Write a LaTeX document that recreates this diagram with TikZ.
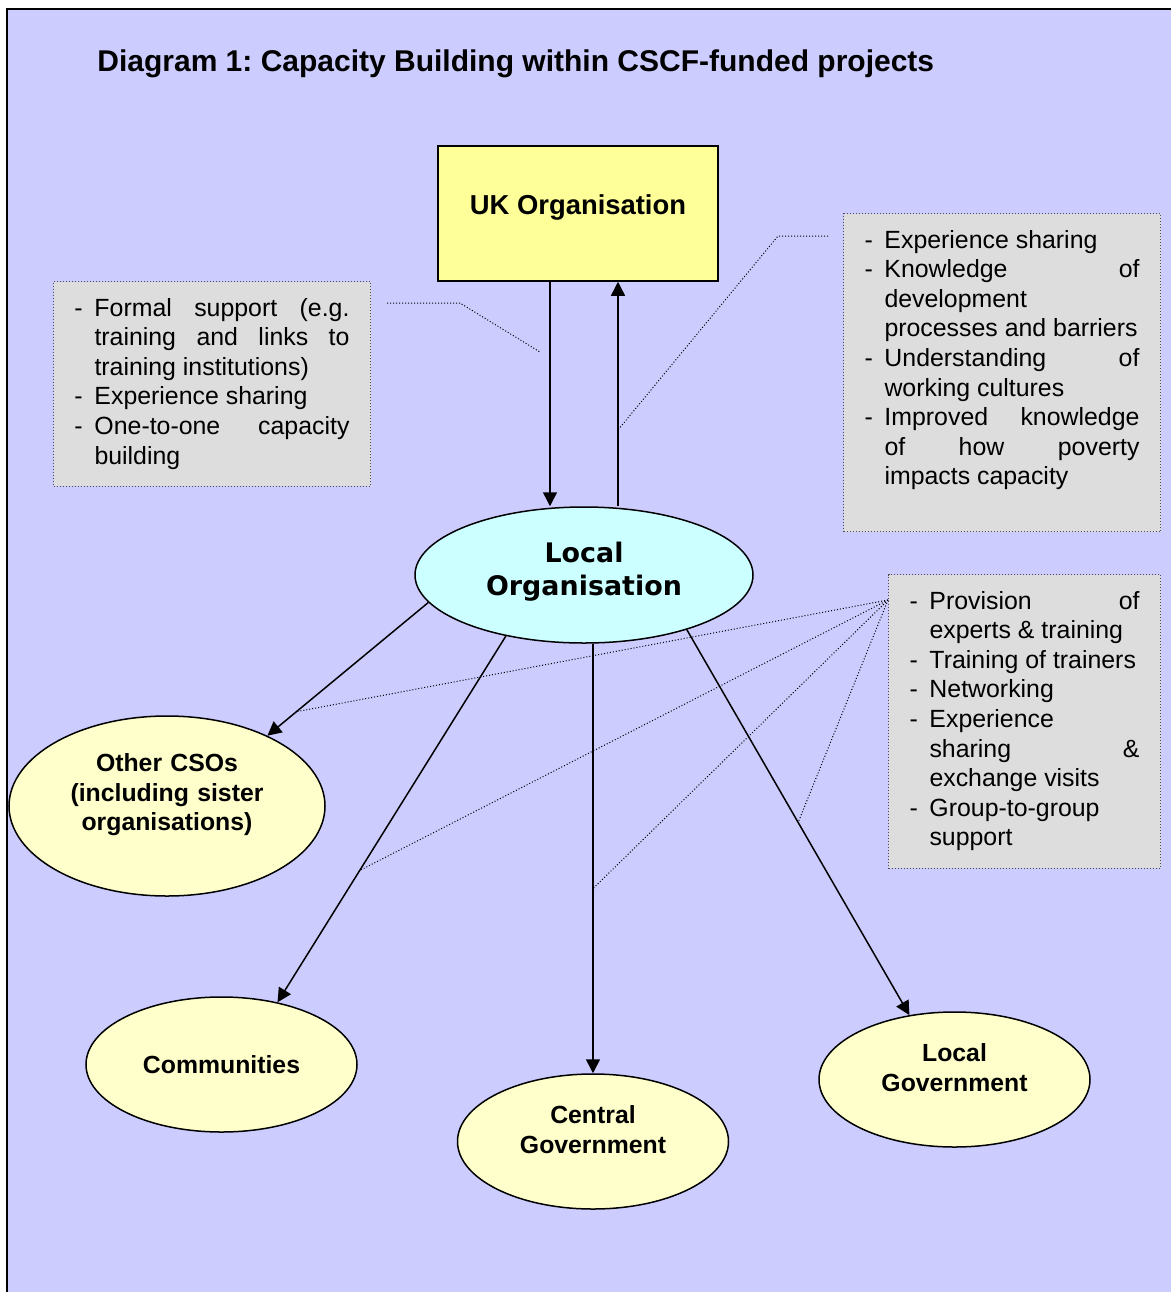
\documentclass[tikz,border=0pt]{standalone}
\usepackage{fontspec}
\setmainfont{Liberation Sans}
\newfontfamily\verdana{DejaVu Sans}
\usetikzlibrary{shapes.geometric,arrows.meta}
\definecolor{bgblue}{HTML}{CCCCFF}
\definecolor{boxgrey}{HTML}{DDDDDD}
\definecolor{ukyellow}{HTML}{FFFF99}
\definecolor{localcyan}{HTML}{CCFFFF}
\definecolor{paleyellow}{HTML}{FFFFCC}
\newcommand{\notefont}{\fontsize{12.44}{14.8}\selectfont\tolerance=10000\hyphenpenalty=10000}
\newcommand{\dashitem}[1]{\par\noindent\hangindent=10pt\hangafter=1\makebox[10pt][l]{-}#1}
\newcommand{\lift}[1]{\par\vspace*{#1}\hrule height0pt width0pt}
\frenchspacing

\begin{document}
\begin{tikzpicture}[x=0.5pt, y=-0.5pt,
        flow/.style={-{Triangle[length=7pt,width=7pt]}, line width=0.75pt},
        leader/.style={line width=0.5pt, dash pattern=on 0.5pt off 1pt},
        notebox/.style={draw=black!70, dash pattern=on 0.5pt off 1pt, line width=0.5pt, fill=boxgrey,
            anchor=north west, align=justify, inner xsep=10.5pt, inner ysep=2.5pt, font=\notefont},
        party/.style={ellipse, draw, line width=0.75pt, fill=paleyellow, inner sep=0pt,
            minimum width=135.5pt, minimum height=67.5pt, text width=90pt, align=center,
            font=\fontsize{12.4}{14.75}\selectfont\bfseries}]
        \clip (0,0) rectangle (1171,1292);
        \draw[fill=bgblue, line width=1pt] (7,9) rectangle (1190,1310);

        \node[font=\fontsize{15}{18}\selectfont\bfseries, anchor=west, inner sep=0pt] (title) at (97,64)
            {Diagram 1: Capacity Building within CSCF-funded projects};

        \node[draw, line width=0.75pt, fill=ukyellow, minimum width=140pt, minimum height=67.5pt, inner sep=0pt,
            text depth=9pt, font=\fontsize{13.7}{16}\selectfont\bfseries] (uk) at (578,213.5) {UK Organisation};
        \node[ellipse, draw, line width=0.75pt, fill=localcyan, minimum width=169pt, minimum height=68pt,
            inner sep=0pt, text width=105pt, align=center, font=\verdana\bfseries\fontsize{13.45}{16.5}\selectfont]
            (local) at (584,575) {Local\\Organisation\lift{3pt}};
        \node[party, minimum width=158pt, minimum height=90pt, text width=105pt] (others) at (167,806)
            {Other CSOs\\(including sister\\organisations)\lift{11pt}};
        \node[party] (communities) at (221.5,1064.5) {Communities};
        \node[party] (central) at (593,1141.5) {Central\\Government\lift{12pt}};
        \node[party] (localgov) at (954.5,1079.5) {Local\\Government\lift{12pt}};

        \node[notebox, text width=137.5pt] (formal) at (53,281) {%
            \dashitem{Formal support (e.g.\linebreak training and links to\linebreak training institutions)}%
            \dashitem{Experience sharing}%
            \dashitem{One-to-one capacity\linebreak building}\lift{6pt}};
        \node[notebox, text width=137.5pt] (gains) at (843,213) {%
            \dashitem{Experience sharing}%
            \dashitem{Knowledge of\linebreak development\linebreak processes and barriers}%
            \dashitem{Understanding of\linebreak working cultures}%
            \dashitem{Improved knowledge\linebreak of how poverty\linebreak impacts capacity}%
            \par\mbox{}\lift{6pt}};
        \node[notebox, text width=115pt] (methods) at (888,574) {%
            \dashitem{Provision of\linebreak experts \& training}%
            \dashitem{Training of trainers}%
            \dashitem{Networking}%
            \dashitem{Experience\linebreak sharing \&\linebreak exchange visits}%
            \dashitem{Group-to-group\linebreak support}\lift{6pt}};

        \draw[flow] ([xshift=-14pt]uk.south) -- ([xshift=-14pt]uk.south |- local.north);
        \draw[flow] ([xshift=20pt]uk.south |- local.north) -- coordinate[pos=0.34] (uptip) ([xshift=20pt]uk.south);
        \draw[flow] (local.190) -- coordinate[pos=0.82] (othertip) (others.35);
        \draw[flow] (local.218) -- coordinate[pos=0.64] (commtip) (communities.48);
        \draw[flow] (central.north |- local.south) -- coordinate[pos=0.57] (centraltip) (central.north);
        \draw[flow] (local.-28) -- coordinate[pos=0.5] (localgovtip) (localgov.125);

        \coordinate (formalA) at (387,303);
        \coordinate (formalB) at (460,303);
        \coordinate (formalC) at (540,352);
        \draw[leader] (formalA) -- (formalB) -- (formalC);
        \coordinate (gainsA) at (828,236);
        \coordinate (gainsB) at (778,236);
        \draw[leader] (gainsA) -- (gainsB) -- (uptip);
        \coordinate (methodsA) at ([yshift=-13pt]methods.north west);
        \foreach \tip in {othertip,commtip,centraltip,localgovtip}
            \draw[leader] (methodsA) -- (\tip);
\end{tikzpicture}
\end{document}
